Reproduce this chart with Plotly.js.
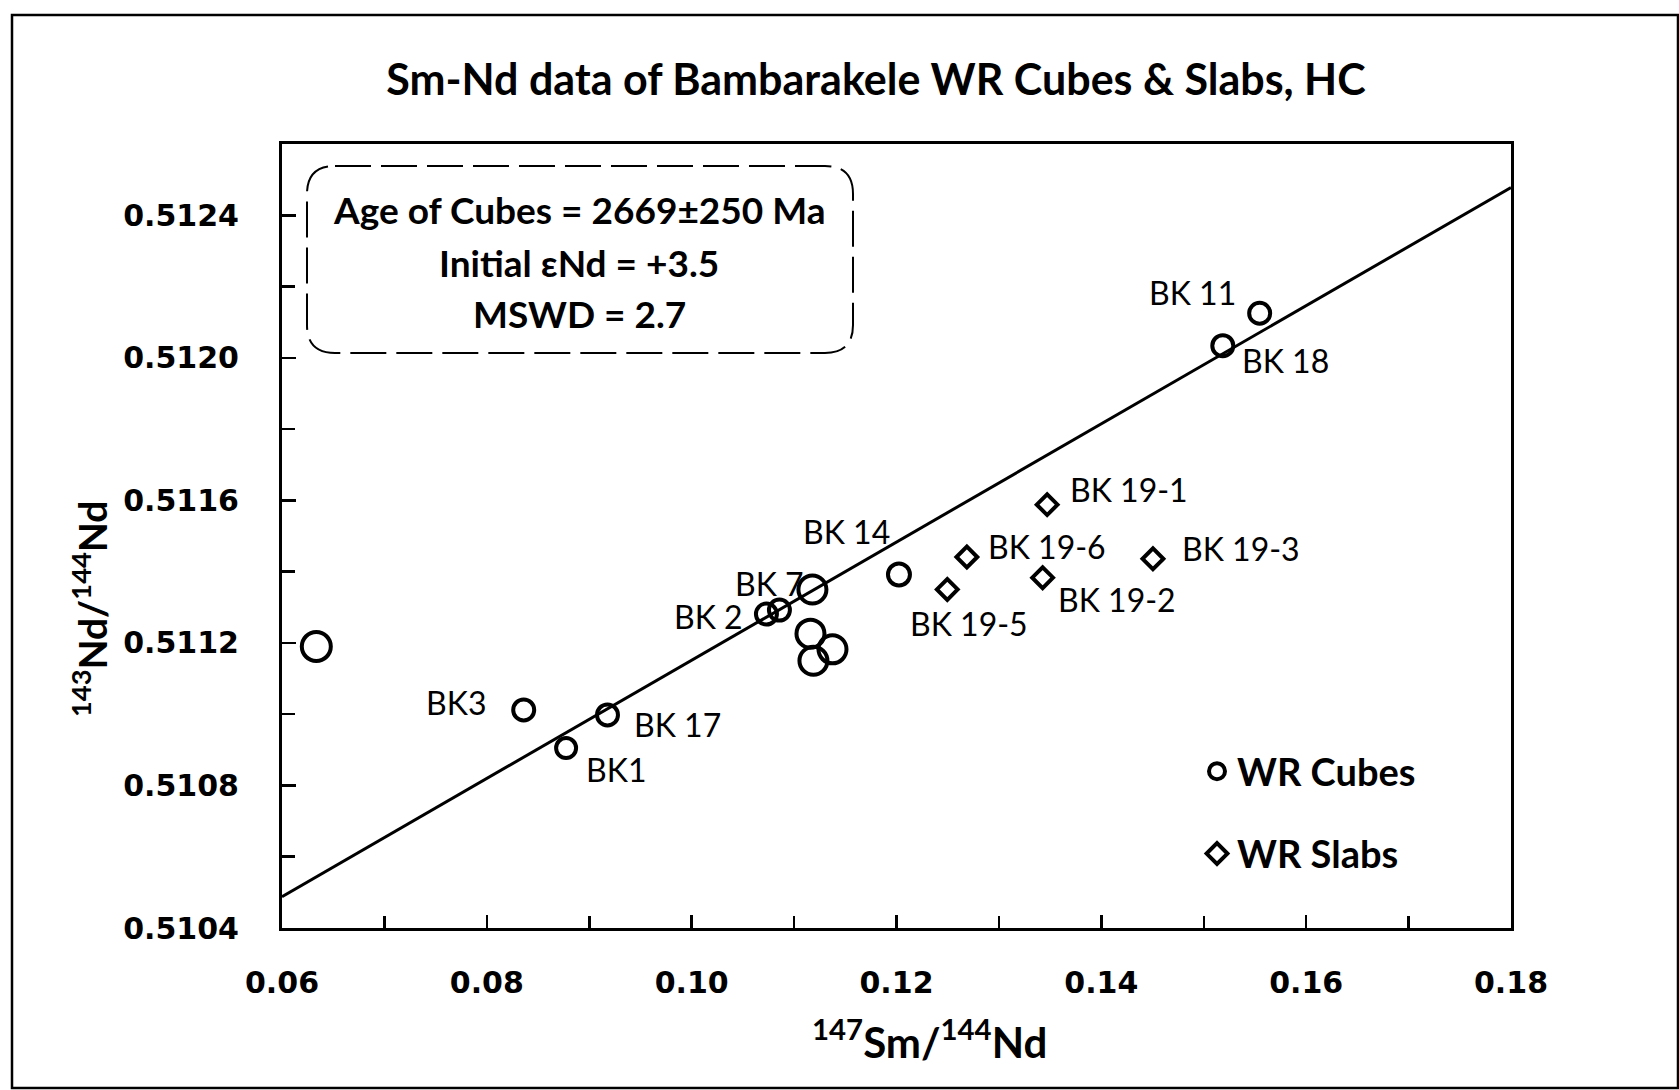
<!DOCTYPE html>
<html>
<head>
<meta charset="utf-8">
<script src="https://cdn.plot.ly/plotly-3.0.1.min.js"></script>
<style>
  html, body { margin: 0; padding: 0; background: #fff; }
  #chart { width: 1679px; height: 1090px; }
</style>
</head>
<body>
<div id="chart"></div>
<script>
// ---------- DATA ----------
const cubeNames = ["", "BK3", "BK1", "BK 17", "BK 2", "", "BK 7", "", "", "", "BK 14", "BK 18", "BK 11"];
const cubeX = [0.06335, 0.08360, 0.08774, 0.09178, 0.10730, 0.10857, 0.11179, 0.11160, 0.11375, 0.11189, 0.12024, 0.15186, 0.15546];
const cubeY = [0.511190, 0.511012, 0.510905, 0.510998, 0.511281, 0.511292, 0.511350, 0.511226, 0.511182, 0.511150, 0.511392, 0.512034, 0.512125];

const slabNames = ["BK 19-1", "BK 19-6", "BK 19-3", "BK 19-5", "BK 19-2"];
const slabX = [0.13471, 0.12687, 0.14504, 0.12496, 0.13427];
const slabY = [0.511588, 0.511441, 0.511436, 0.511350, 0.511383];

const isochronX = [0.06, 0.18];
const isochronY = [0.510488, 0.512478];

const titleText = "Sm-Nd data of Bambarakele WR Cubes & Slabs, HC";
const boxLines = ["Age of Cubes = 2669±250 Ma", "Initial εNd = +3.5", "MSWD = 2.7"];
const xTitle = "<sup>147</sup>Sm/<sup>144</sup>Nd";
const yTitle = "<sup>143</sup>Nd/<sup>144</sup>Nd";
const legendNames = ["WR Cubes", "WR Slabs"];

// ---------- STYLE ----------
const FONT = "Lato, 'Open Sans', sans-serif";
const TICKFONT = "'DejaVu Sans', Verdana, sans-serif";
// plot area in pixels
const L = 282, R = 1511, T = 144, B = 928, W = 1679, H = 1090;
const px = v => (v - L) / (R - L);
const py = v => (B - v) / (B - T);

// marker sizes per cube point (style)
const cubeSizes = [29, 21, 20, 21, 21, 21, 28, 28, 28, 28, 22, 21, 21];
// label offsets in px (style): [xshift, yshift]
const labelOffsets = {
  "BK 11": [-67, 21], "BK 18": [63, -15], "BK3": [-68, 7], "BK 17": [70, -10],
  "BK1": [50, -21], "BK 2": [-58, -2], "BK 7": [-43, 6], "BK 14": [-52, 43],
  "BK 19-1": [82, 15], "BK 19-6": [80, 11], "BK 19-3": [88, 10],
  "BK 19-5": [22, -34], "BK 19-2": [74, -22]
};

const traces = [
  {
    x: isochronX, y: isochronY, mode: "lines", type: "scatter",
    line: { color: "#000", width: 3 }, showlegend: false, hoverinfo: "skip"
  },
  {
    x: cubeX, y: cubeY, mode: "markers", type: "scatter", name: legendNames[0],
    legendgroup: "a",
    marker: { symbol: "circle", color: "rgba(0,0,0,0)", opacity: 1, size: cubeSizes, line: { width: 4, color: "#000" } }
  },
  {
    x: slabX, y: slabY, mode: "markers", type: "scatter", name: legendNames[1],
    legendgroup: "b",
    marker: { symbol: "diamond", color: "rgba(0,0,0,0)", opacity: 1, size: 16, line: { width: 4, color: "#000" } }
  }
];

const annotations = [];
function addLabels(names, xs, ys) {
  names.forEach((n, i) => {
    if (!n) return;
    const off = labelOffsets[n] || [0, 0];
    annotations.push({
      x: xs[i], y: ys[i], xref: "x", yref: "y", text: n, showarrow: false,
      xshift: off[0], yshift: off[1], xanchor: "center", yanchor: "middle",
      font: { family: FONT, size: 32, color: "#000" }
    });
  });
}
addLabels(cubeNames, cubeX, cubeY);
addLabels(slabNames, slabX, slabY);

const boxLineY = [210, 262, 313];
boxLines.forEach((t, i) => {
  annotations.push({
    x: px(579), y: py(boxLineY[i]), xref: "paper", yref: "paper", text: t,
    showarrow: false, xanchor: "center", yanchor: "middle",
    font: { family: FONT, size: 37, color: "#000", weight: "bold" }
  });
});

// axis titles
annotations.push({
  x: px(929), y: py(1039), xref: "paper", yref: "paper", text: xTitle, showarrow: false,
  xanchor: "center", yanchor: "middle",
  font: { family: FONT, size: 42, color: "#000", weight: "bold" }
});
annotations.push({
  x: px(89), y: py(609), xref: "paper", yref: "paper", text: yTitle, showarrow: false,
  xanchor: "center", yanchor: "middle", textangle: -90,
  font: { family: FONT, size: 39, color: "#000", weight: "bold" }
});

// rounded dashed box
function roundedRect(x0, y0, x1, y1, r) {
  const X = v => px(v).toFixed(5), Y = v => py(v).toFixed(5);
  return `M ${X(x0 + r)} ${Y(y0)} L ${X(x1 - r)} ${Y(y0)} Q ${X(x1)} ${Y(y0)} ${X(x1)} ${Y(y0 + r)}` +
    ` L ${X(x1)} ${Y(y1 - r)} Q ${X(x1)} ${Y(y1)} ${X(x1 - r)} ${Y(y1)}` +
    ` L ${X(x0 + r)} ${Y(y1)} Q ${X(x0)} ${Y(y1)} ${X(x0)} ${Y(y1 - r)}` +
    ` L ${X(x0)} ${Y(y0 + r)} Q ${X(x0)} ${Y(y0)} ${X(x0 + r)} ${Y(y0)} Z`;
}

const shapes = [
  {
    type: "path", xref: "paper", yref: "paper", path: roundedRect(307, 166, 853, 353, 28),
    line: { color: "#000", width: 2, dash: "36px,10px" }, fillcolor: "rgba(0,0,0,0)"
  },
  {
    type: "rect", xref: "paper", yref: "paper",
    x0: px(12), x1: px(1678), y0: py(1088), y1: py(15),
    line: { color: "#000", width: 2.5 }, fillcolor: "rgba(0,0,0,0)", layer: "below"
  }
];

const axisCommon = {
  showline: true, linecolor: "#000", linewidth: 3, mirror: true,
  showgrid: false, zeroline: false, ticks: "inside", tickcolor: "#000", tickwidth: 2.5,
  tickfont: { family: TICKFONT, size: 30, color: "#000", weight: "bold" }
};

const layout = {
  width: W, height: H,
  paper_bgcolor: "#fff", plot_bgcolor: "#fff",
  margin: { l: L, r: W - R, t: T, b: H - B, pad: 0 },
  title: {
    text: titleText, font: { family: FONT, size: 43, color: "#000", weight: "bold" },
    x: 876 / W, xref: "container", xanchor: "center", y: 1 - 80 / H, yref: "container", yanchor: "middle"
  },
  xaxis: Object.assign({}, axisCommon, {
    range: [0.06, 0.18], tick0: 0.06, dtick: 0.02, tickformat: ".2f", ticklen: 13,
    minor: { dtick: 0.01, ticks: "inside", ticklen: 12, tickcolor: "#000", tickwidth: 2.5 },
    ticklabelstandoff: 26, automargin: false
  }),
  yaxis: Object.assign({}, axisCommon, {
    range: [0.5104, 0.5126], tick0: 0.5104, dtick: 0.0004, tickformat: ".4f", ticklen: 14,
    minor: { dtick: 0.0002, ticks: "inside", ticklen: 13, tickcolor: "#000", tickwidth: 2.5 },
    ticklabelstandoff: 34, automargin: false
  }),
  showlegend: true,
  legend: {
    x: px(1197), y: py(740), xanchor: "left", yanchor: "top",
    font: { family: FONT, size: 38, color: "#000", weight: "bold" },
    bgcolor: "rgba(0,0,0,0)", traceorder: "grouped", tracegroupgap: 30, itemsizing: "trace"
  },
  annotations: annotations,
  shapes: shapes
};

Plotly.newPlot("chart", traces, layout, { displayModeBar: false, staticPlot: true });
</script>
</body>
</html>
